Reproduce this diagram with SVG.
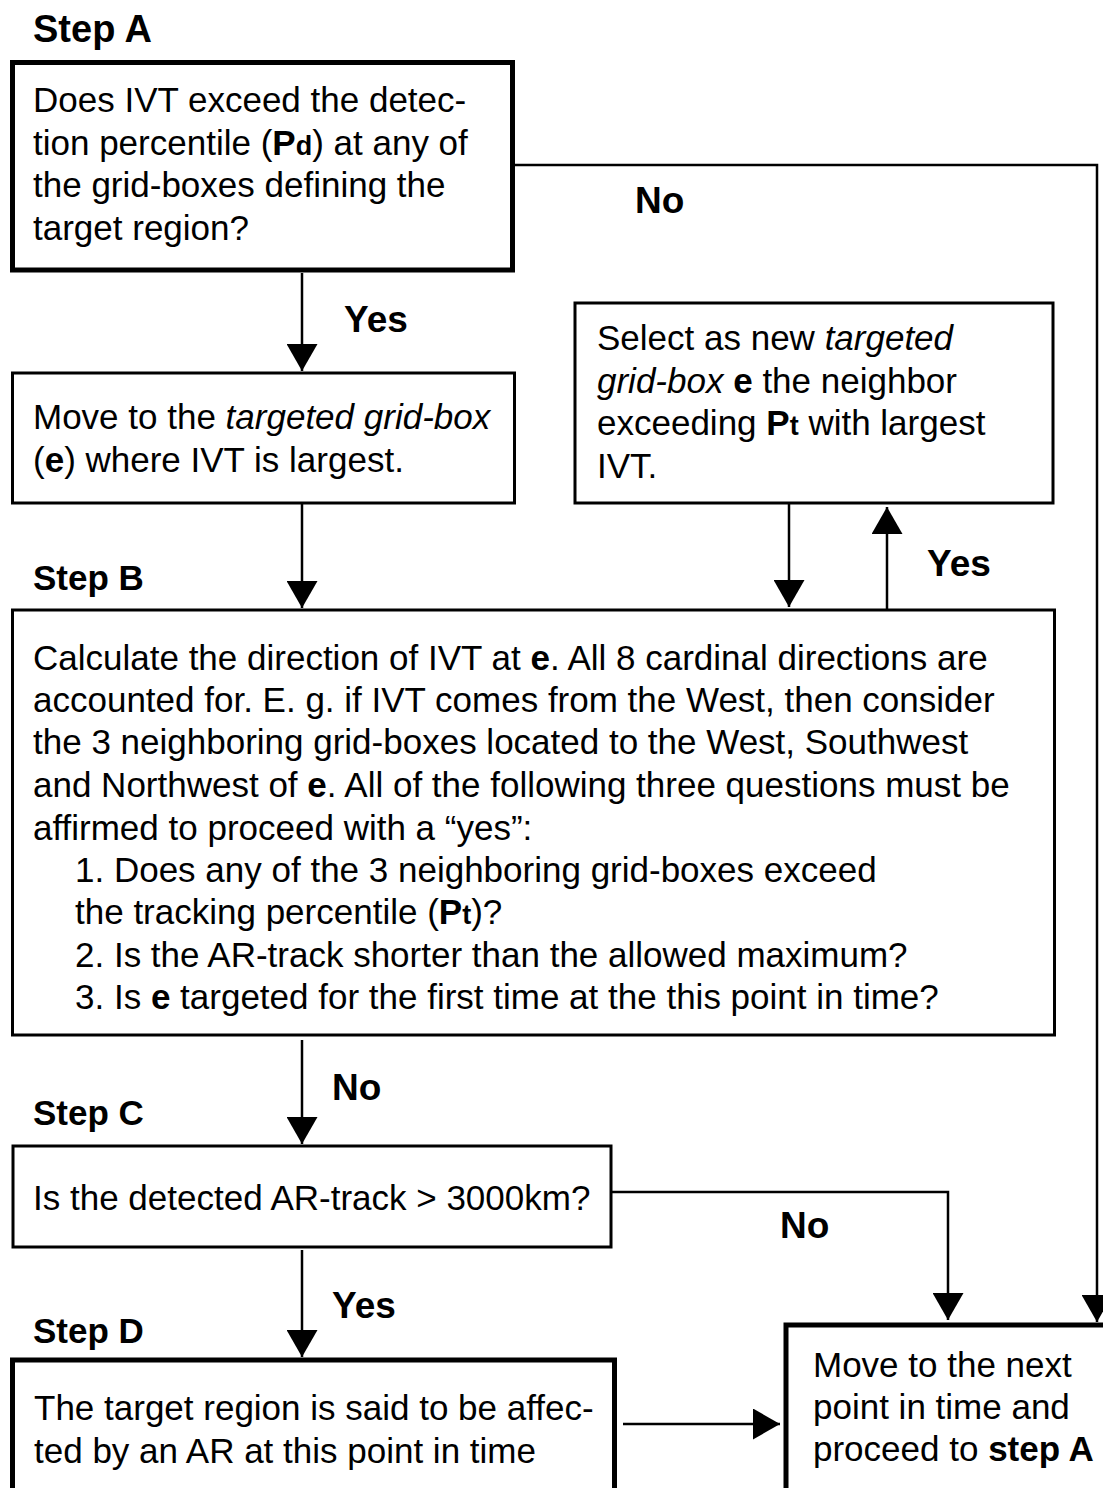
<svg xmlns="http://www.w3.org/2000/svg" width="1103" height="1488" viewBox="0 0 1103 1488">
<style>
text{font-family:"Liberation Sans",Arial,sans-serif;fill:#000}
.t{font-size:35px}
.lbl{font-size:37px;font-weight:bold}
.step{font-size:35px;font-weight:bold}
.b{font-weight:bold}
.sub{font-size:27px;font-weight:bold}
.thick{fill:#fff;stroke:#000;stroke-width:5}
.thin{fill:#fff;stroke:#000;stroke-width:3}
.con{fill:none;stroke:#000;stroke-width:2.5}
</style>
<defs>
<marker id="ah" viewBox="0 0 27 31" refX="27" refY="15.5" markerWidth="27" markerHeight="31" orient="auto" markerUnits="userSpaceOnUse"><path d="M0,0 L27,15.5 L0,31 z" fill="#000"/></marker>
</defs>
<rect width="1103" height="1488" fill="#fff"/>
<g id="connectors">
<path class="con" d="M515 165 H1097 V1322" marker-end="url(#ah)"/>
<path class="con" d="M302 273 V371" marker-end="url(#ah)"/>
<path class="con" d="M302 503 V608" marker-end="url(#ah)"/>
<path class="con" d="M789 503 V607" marker-end="url(#ah)"/>
<path class="con" d="M887 616 V507" marker-end="url(#ah)"/>
<path class="con" d="M302 1040 V1144" marker-end="url(#ah)"/>
<path class="con" d="M611 1192 H948 V1320" marker-end="url(#ah)"/>
<path class="con" d="M302 1250 V1357" marker-end="url(#ah)"/>
<path class="con" d="M623 1424 H780" marker-end="url(#ah)"/>
</g>
<g id="labels">
<text class="step" x="33" y="42" font-size="38px" style="font-size:38px">Step A</text>
<text class="lbl" x="635" y="213">No</text>
<text class="lbl" x="344" y="332">Yes</text>
<text class="lbl" x="927" y="576">Yes</text>
<text class="step" x="33" y="590">Step B</text>
<text class="lbl" x="332" y="1100">No</text>
<text class="step" x="33" y="1125">Step C</text>
<text class="lbl" x="780" y="1238">No</text>
<text class="lbl" x="332" y="1318">Yes</text>
<text class="step" x="33" y="1343">Step D</text>
</g>
<g id="nodeA">
<rect class="thick" x="12.5" y="62.5" width="500" height="207.5"/>
<text class="t" x="33" y="112">Does IVT exceed the detec-</text>
<text class="t" x="33" y="155">tion percentile (<tspan class="b">P</tspan><tspan class="sub">d</tspan>) at any of</text>
<text class="t" x="33" y="197">the grid-boxes defining the</text>
<text class="t" x="33" y="240">target region?</text>
</g>
<g id="nodeMove">
<rect class="thin" x="12.5" y="373" width="502" height="130"/>
<text class="t" x="33" y="429">Move to the <tspan font-style="italic">targeted grid-box</tspan></text>
<text class="t" x="33" y="472">(<tspan class="b">e</tspan>) where IVT is largest.</text>
</g>
<g id="nodeSelect">
<rect class="thin" x="575" y="303" width="478" height="200"/>
<text class="t" x="597" y="350">Select as new <tspan font-style="italic">targeted</tspan></text>
<text class="t" x="597" y="393"><tspan font-style="italic">grid-box</tspan> <tspan class="b">e</tspan> the neighbor</text>
<text class="t" x="597" y="435">exceeding <tspan class="b">P</tspan><tspan class="sub">t</tspan> with largest</text>
<text class="t" x="597" y="478">IVT.</text>
</g>
<g id="nodeB">
<rect class="thin" x="12.5" y="610" width="1042" height="425"/>
<text class="t" x="33" y="670">Calculate the direction of IVT at <tspan class="b">e</tspan>. All 8 cardinal directions are</text>
<text class="t" x="33" y="712">accounted for. E. g. if IVT comes from the West, then consider</text>
<text class="t" x="33" y="754">the 3 neighboring grid-boxes located to the West, Southwest</text>
<text class="t" x="33" y="797">and Northwest of <tspan class="b">e</tspan>. All of the following three questions must be</text>
<text class="t" x="33" y="840">affirmed to proceed with a “yes”:</text>
<text class="t" x="75" y="882">1. Does any of the 3 neighboring grid-boxes exceed</text>
<text class="t" x="75" y="924">the tracking percentile (<tspan class="b">P</tspan><tspan class="sub">t</tspan>)?</text>
<text class="t" x="75" y="967">2. Is the AR-track shorter than the allowed maximum?</text>
<text class="t" x="75" y="1009">3. Is <tspan class="b">e</tspan> targeted for the first time at the this point in time?</text>
</g>
<g id="nodeC">
<rect class="thin" x="13" y="1146" width="598" height="101"/>
<text class="t" x="33" y="1210">Is the detected AR-track &gt; 3000km?</text>
</g>
<g id="nodeD">
<rect class="thick" x="12.5" y="1360" width="602" height="140"/>
<text class="t" x="34" y="1420">The target region is said to be affec-</text>
<text class="t" x="34" y="1463">ted by an AR at this point in time</text>
</g>
<g id="nodeE">
<rect class="thick" x="786" y="1325" width="330" height="175"/>
<text class="t" x="813" y="1377">Move to the next</text>
<text class="t" x="813" y="1419">point in time and</text>
<text class="t" x="813" y="1461">proceed to <tspan class="b">step A</tspan></text>
</g>
</svg>
